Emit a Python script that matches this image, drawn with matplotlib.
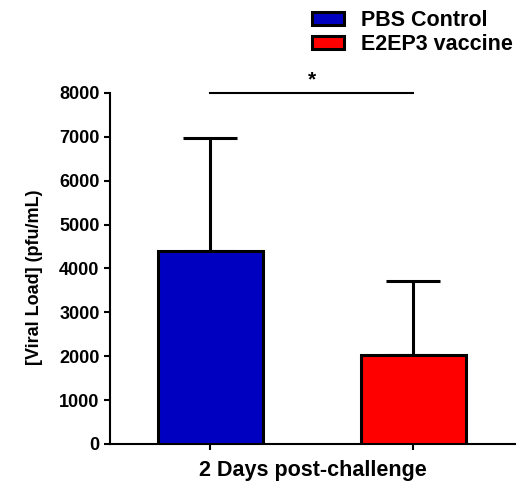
import matplotlib
matplotlib.use("Agg")
import matplotlib.pyplot as plt

# Viral load 2 days post-challenge
groups = ["PBS Control", "E2EP3 vaccine"]
means = [4400, 2020]
sem = [2570, 1700]
colors = ["#0000C0", "#FF0000"]
y_ticks = [0, 1000, 2000, 3000, 4000, 5000, 6000, 7000, 8000]
x_label = "2 Days post-challenge"
y_label = "[Viral Load] (pfu/mL)"
sig_text = "*"

plt.rcParams["font.family"] = ["Liberation Sans", "DejaVu Sans"]
plt.rcParams["font.weight"] = "bold"

fig = plt.figure(figsize=(5.17, 4.83), dpi=100)
ax = fig.add_axes([110 / 517, 39 / 483, 405 / 517, 351 / 483])

x = list(range(len(groups)))
bars = ax.bar(x, means, width=0.52, color=colors, edgecolor="black",
              linewidth=2.2, zorder=3, label=groups)
ax.errorbar(x, means, yerr=[[0] * len(sem), sem], fmt="none", ecolor="black",
            elinewidth=2.2, capsize=19.5, capthick=2.2, zorder=2)

# significance bracket between the two groups
ax.plot([x[0], x[1]], [8000, 8000], color="black", lw=1.5, clip_on=False, zorder=4)
ax.text((x[0] + x[1]) / 2, 8080, sig_text, ha="center", va="bottom",
        fontsize=15, fontweight="bold")

ax.set_xlim(-0.495, 1.5)
ax.set_ylim(0, 8000)
ax.set_yticks(y_ticks)
ax.set_xticks(x)
ax.set_xticklabels([])
ax.tick_params(axis="both", direction="out", length=4.5, width=1.5,
               labelsize=13, pad=3.0)
for lab in ax.get_yticklabels():
    lab.set_fontweight("bold")

for side in ["top", "right"]:
    ax.spines[side].set_visible(False)
for side in ["left", "bottom"]:
    ax.spines[side].set_linewidth(1.5)

ax.set_xlabel(x_label, fontsize=15.5, fontweight="bold", labelpad=4)
ax.set_ylabel(y_label, fontsize=13, fontweight="bold")
ax.yaxis.set_label_coords(-0.165, 0.476)

leg = fig.legend(handles=list(bars), labels=groups, loc="upper left",
                 bbox_to_anchor=(312 / 517, 1 - 10 / 483), frameon=False,
                 borderpad=0, borderaxespad=0, fontsize=15.5,
                 handlelength=1.49, handleheight=0.56, handletextpad=0.79,
                 labelspacing=0.14)
for t in leg.get_texts():
    t.set_fontweight("bold")

fig.savefig("out.png", dpi=100)
